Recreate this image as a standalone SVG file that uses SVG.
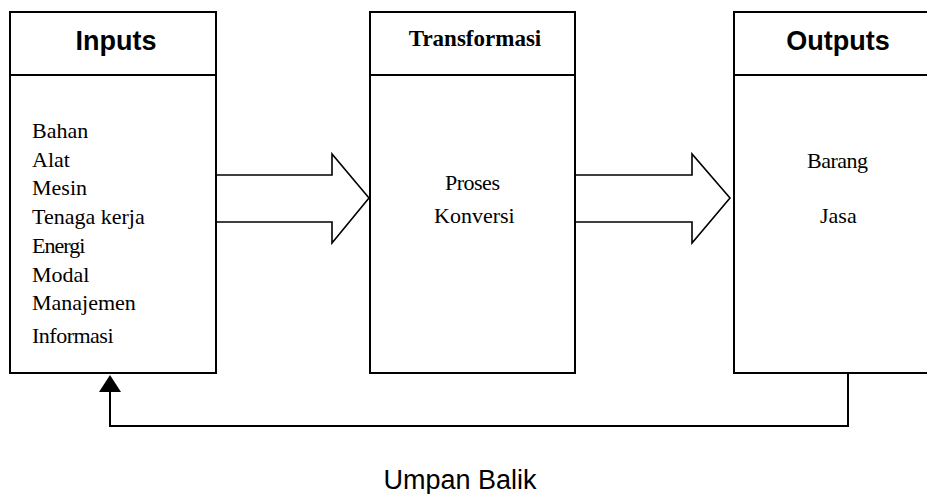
<svg xmlns="http://www.w3.org/2000/svg" width="927" height="494" viewBox="0 0 927 494">
  <style>
    .box { fill: #ffffff; stroke: #000000; stroke-width: 2; }
    .rule { stroke: #000000; stroke-width: 2; }
    .big-arrow { fill: #ffffff; stroke: #000000; stroke-width: 1.6; stroke-linejoin: miter; }
    .feedback { fill: none; stroke: #000000; stroke-width: 2; }
    .head-sans { font-family: "Liberation Sans", Arial, sans-serif; font-weight: bold; font-size: 27px; fill: #000; text-anchor: middle; }
    .head-serif { font-family: "Liberation Serif", "Times New Roman", serif; font-weight: bold; font-size: 23px; fill: #000; text-anchor: middle; }
    .item { font-family: "Liberation Serif", "Times New Roman", serif; font-size: 22px; fill: #000; }
    .label { font-family: "Liberation Sans", Arial, sans-serif; font-size: 27px; fill: #000; text-anchor: middle; }
  </style>
  <rect width="927" height="494" fill="#ffffff"/>

  <g id="connectors">
    <!-- block arrows between stages -->
    <path class="big-arrow" d="M216,175 H332 V154 L369,198 L332,243 V222 H216 Z"/>
    <path class="big-arrow" d="M575,175 H692 V154 L730,198 L692,243 V222 H575 Z"/>
    <!-- feedback loop from outputs back to inputs -->
    <path class="feedback" d="M848,373 V426 H110 V392"/>
    <path d="M110,375 L99,392 L121,392 Z" fill="#000"/>
  </g>

  <g id="inputs">
    <rect class="box" x="10" y="12" width="206" height="361"/>
    <line class="rule" x1="10" y1="75" x2="216" y2="75"/>
    <text class="head-sans" x="116" y="50">Inputs</text>
    <text class="item" x="32" y="138">Bahan</text>
    <text class="item" x="32" y="167">Alat</text>
    <text class="item" x="32" y="195">Mesin</text>
    <text class="item" x="32" y="224">Tenaga kerja</text>
    <text class="item" x="32" y="253" letter-spacing="-1">Energi</text>
    <text class="item" x="32" y="282">Modal</text>
    <text class="item" x="32" y="310">Manajemen</text>
    <text class="item" x="32" y="343" letter-spacing="-0.5">Informasi</text>
  </g>

  <g id="transformasi">
    <rect class="box" x="370" y="12" width="205" height="361"/>
    <line class="rule" x1="370" y1="75" x2="575" y2="75"/>
    <text class="head-serif" x="475" y="46">Transformasi</text>
    <text class="item" x="445" y="190" letter-spacing="-0.5">Proses</text>
    <text class="item" x="434" y="223">Konversi</text>
  </g>

  <g id="outputs">
    <rect class="box" x="734" y="12" width="200" height="361"/>
    <line class="rule" x1="734" y1="75" x2="934" y2="75"/>
    <text class="head-sans" x="838" y="50" font-size="28">Outputs</text>
    <text class="item" x="807" y="168" letter-spacing="-0.5">Barang</text>
    <text class="item" x="820" y="223">Jasa</text>
  </g>

  <g id="feedback-label">
    <text class="label" x="460" y="489">Umpan Balik</text>
  </g>
</svg>
